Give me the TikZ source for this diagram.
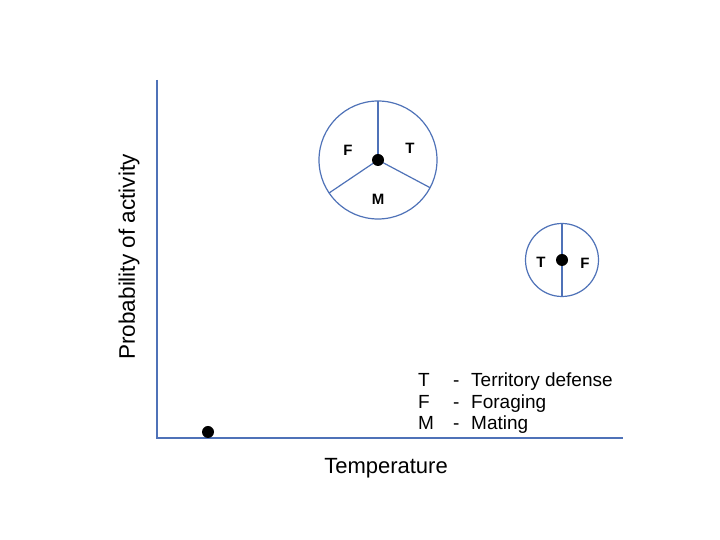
\documentclass[tikz,border=0pt]{standalone}
\usepackage{fontspec}
\setmainfont{Liberation Sans}
\definecolor{axisblue}{RGB}{79,114,184}
\begin{document}
\begin{tikzpicture}[x=1pt,y=1pt,
    pie/.style={draw=axisblue,line width=1.2pt},
    dot/.style={circle,fill=black,inner sep=0pt,minimum size=12pt},
    part/.style={font=\fontsize{15}{17}\selectfont\bfseries,inner sep=0pt},
    legend/.style={font=\fontsize{19}{22}\selectfont,anchor=base west,inner sep=0pt}]
    \fill[white] (0,0) rectangle (720,540);
    \useasboundingbox (0,0) rectangle (720,540);
    % Axes
    \coordinate (ytop) at (157,460);
    \coordinate (origin) at (157,102);
    \coordinate (xend) at (623,102);
    \draw[axisblue,line width=1.5pt] (ytop) -- (origin) -- (xend);
    \node[font=\fontsize{22}{26}\selectfont] (xlabel) at (386,72) {Temperature};
    \node[font=\fontsize{22.5}{26}\selectfont,rotate=90] (ylabel) at (129,283) {Probability of activity};
    % Low temperature: no activity
    \node[dot] (low) at (208,108) {};
    % Middle temperature: three activities
    \node[pie,circle,minimum size=118pt,outer sep=0pt] (big) at (378,380) {};
    \draw[pie] (big.center) -- (big.90);
    \draw[pie] (big.center) -- (big.214);
    \draw[pie] (big.center) -- (big.-28);
    \node[dot] (mid) at (big.center) {};
    \node[part] (bigF) at (348,390) {F};
    \node[part] (bigT) at (410,392) {T};
    \node[part] (bigM) at (378,341) {M};
    % High temperature: two activities
    \node[pie,circle,minimum size=73pt,outer sep=0pt] (small) at (562,280) {};
    \draw[pie] (small.90) -- (small.270);
    \node[dot] (high) at (small.center) {};
    \node[part] (smallT) at (541,278) {T};
    \node[part] (smallF) at (585,277) {F};
    % Legend
    \node[legend] (keyT) at (418,153) {T};
    \node[legend] (keyF) at (418,131) {F};
    \node[legend] (keyM) at (418,110) {M};
    \node[legend] (dashT) at (453,153) {-};
    \node[legend] (dashF) at (453,131) {-};
    \node[legend] (dashM) at (453,110) {-};
    \node[legend] (textT) at (471,153) {Territory defense};
    \node[legend] (textF) at (471,131) {Foraging};
    \node[legend] (textM) at (471,110) {Mating};
\end{tikzpicture}
\end{document}
